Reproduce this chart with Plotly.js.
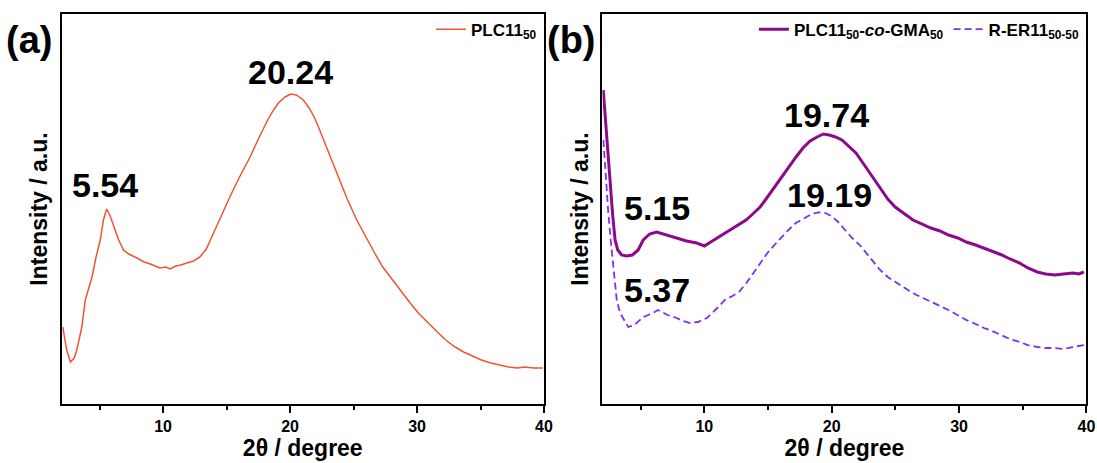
<!DOCTYPE html>
<html>
<head>
<meta charset="utf-8">
<script src="https://cdn.plot.ly/plotly-3.0.1.min.js"></script>
<style>html,body{margin:0;padding:0;background:#fff;}#chart{width:1097px;height:463px;}</style>
</head>
<body>
<div id="chart"></div>
<script>
// Panel (a): PLC11_50
const twoThetaA = [2.1, 2.4, 2.7, 3.0, 3.2, 3.4, 3.6, 3.87, 4.1, 4.4, 4.7, 5.05, 5.3, 5.55, 5.8, 6.0, 6.23, 6.5, 6.88, 7.3, 7.93, 8.5, 9.0, 9.76, 10.2, 10.55, 11.0, 11.4, 11.86, 12.4, 12.9, 13.4, 13.9, 14.5, 15.4, 16.1, 16.85, 17.5, 18.24, 18.7, 19.08, 19.6, 20.06, 20.5, 21.04, 21.5, 21.9, 22.3, 22.74, 23.3, 23.85, 24.5, 25.25, 26.0, 26.66, 27.3, 28.06, 28.8, 29.46, 30.1, 30.86, 31.6, 32.26, 33.0, 33.67, 34.4, 35.07, 35.8, 36.5, 37.2, 37.9, 38.5, 39.2, 39.9];
const intensityA = [77, 54, 42, 46, 54, 66, 77, 104, 114, 127, 146, 164, 184, 195, 189, 182, 174, 164, 154, 150, 146, 142, 140, 136, 137, 135, 138, 139, 141, 143, 147, 155, 169, 186, 211, 229, 247, 265, 284, 294, 301, 307, 310, 309, 304, 296, 287, 275, 261, 243, 224, 205, 184, 166, 151, 137, 124, 112, 101, 91, 81, 72, 64, 57, 52, 48, 44, 41, 39, 37, 36, 37, 36, 36];

// Panel (b): PLC11_50-co-GMA_50
const twoThetaP = [2.06, 2.2, 2.4, 2.6, 2.8, 2.99, 3.2, 3.5, 3.9, 4.35, 4.8, 5.2, 5.7, 6.26, 6.8, 7.4, 8.0, 8.6, 9.4, 10.0, 10.5, 11.0, 11.5, 11.88, 12.6, 13.27, 13.8, 14.38, 14.9, 15.5, 16.0, 16.6, 17.2, 17.74, 18.3, 18.85, 19.34, 19.8, 20.3, 20.8, 21.3, 21.9, 22.4, 23.0, 23.4, 23.87, 24.4, 24.98, 25.7, 26.38, 27.1, 27.78, 28.5, 29.17, 29.9, 30.56, 31.3, 31.95, 32.6, 33.35, 34.0, 34.75, 35.4, 36.14, 36.8, 37.53, 38.2, 38.93, 39.4, 39.8];
const intensityP = [314, 289, 259, 224, 189, 164, 154, 149, 148, 149, 154, 164, 170, 172, 170, 167, 165, 163, 161, 158, 162, 166, 170, 173, 179, 184, 190, 197, 206, 217, 226, 237, 247, 256, 263, 267, 270, 269, 267, 264, 258, 251, 242, 231, 223, 214, 205, 197, 190, 184, 180, 176, 173, 169, 166, 162, 159, 156, 153, 149, 145, 141, 136, 132, 130, 129, 130, 131, 130, 132];

// Panel (b): R-ER11_50-50
const twoThetaR = [2.07, 2.25, 2.46, 2.66, 2.86, 3.12, 3.38, 3.7, 4.03, 4.5, 5.2, 5.8, 6.37, 7.1, 7.83, 8.3, 8.88, 9.5, 10.2, 11.1, 11.6, 12.2, 12.72, 13.3, 13.83, 14.4, 14.95, 15.5, 16.07, 16.6, 17.18, 17.7, 18.3, 18.7, 19.13, 19.5, 19.97, 20.5, 21.08, 21.6, 22.2, 22.7, 23.3, 23.8, 24.4, 25.0, 25.55, 26.1, 26.66, 27.2, 27.78, 28.5, 29.17, 29.9, 30.56, 31.3, 31.95, 32.6, 33.35, 34.0, 34.75, 35.4, 36.14, 36.8, 37.53, 38.2, 38.93, 39.4, 39.8];
const intensityR = [264, 229, 191, 162, 137, 104, 91, 84, 77, 79, 87, 90, 94, 89, 86, 83, 81, 82, 86, 97, 104, 108, 112, 121, 131, 141, 151, 159, 167, 174, 181, 185, 189, 191, 192, 191, 188, 182, 174, 166, 159, 151, 142, 134, 127, 122, 117, 113, 109, 106, 102, 98, 94, 89, 84, 80, 76, 73, 69, 65, 62, 59, 57, 56, 56, 55, 57, 58, 59];

const seriesNames = ['<b>PLC11<sub>50</sub></b>', '<b>PLC11<sub>50</sub>-<i>co</i>-GMA<sub>50</sub></b>', '<b>R-ER11<sub>50-50</sub></b>'];
const tickVals = [10, 20, 30, 40];
const tickLabels = ['10', '20', '30', '40'];

// Peak labels: [text, 2θ, intensity, panel]
const peakLabels = [
  ['5.54', 5.4, 219, 'a'],
  ['20.24', 20.0, 332, 'a'],
  ['19.74', 19.55, 289, 'b'],
  ['5.15', 6.29, 196, 'b'],
  ['19.19', 19.83, 209, 'b'],
  ['5.37', 6.29, 114, 'b']
];

const FONT = 'Arial, "Liberation Sans", sans-serif';

const traces = [
  {x: twoThetaA, y: intensityA, type: 'scatter', mode: 'lines', name: seriesNames[0],
   line: {color: '#EE5533', width: 1.5}, xaxis: 'x', yaxis: 'y', legend: 'legend'},
  {x: twoThetaP, y: intensityP, type: 'scatter', mode: 'lines', name: seriesNames[1],
   line: {color: '#8B0A8B', width: 3}, xaxis: 'x2', yaxis: 'y2', legend: 'legend2'},
  {x: twoThetaR, y: intensityR, type: 'scatter', mode: 'lines', name: seriesNames[2],
   line: {color: '#7B2FF7', width: 1.8, dash: '7px,4px'}, xaxis: 'x2', yaxis: 'y2', legend: 'legend2'}
];

function xAxis(domain, anchor) {
  return {
    domain: domain, anchor: anchor, range: [2, 40],
    tickmode: 'array', tickvals: tickVals, ticktext: tickLabels.map(t => '<b>' + t + '</b>'),
    ticks: 'outside', ticklen: 7, tickwidth: 2, tickcolor: '#000',
    minor: {tickvals: [5, 15, 25, 35], ticks: 'outside', ticklen: 4, tickwidth: 2, tickcolor: '#000'},
    showline: true, linewidth: 2, linecolor: '#000', mirror: true,
    showgrid: false, zeroline: false,
    tickfont: {family: FONT, size: 16, color: '#000', weight: 'bold'},
    title: {text: '<b>2θ / degree</b>', font: {family: FONT, size: 23, color: '#000'}, standoff: 6}
  };
}
function yAxis(domain, anchor) {
  return {
    domain: domain, anchor: anchor, range: [0, 390],
    showticklabels: false, ticks: '',
    showline: true, linewidth: 2, linecolor: '#000', mirror: true,
    showgrid: false, zeroline: false,
    title: {text: '<b>Intensity / a.u.</b>', font: {family: FONT, size: 23, color: '#000'}, standoff: 5}
  };
}

const yDom = [0.1274, 0.9698];
const annotations = peakLabels.map(p => ({
  text: '<b>' + p[0] + '</b>', x: p[1], y: p[2],
  xref: p[3] === 'a' ? 'x' : 'x2', yref: p[3] === 'a' ? 'y' : 'y2',
  xanchor: 'center', yanchor: 'middle',
  showarrow: false, font: {family: FONT, size: 34, color: '#000'}
}));
annotations.push({text: '<b>(a)</b>', xref: 'paper', yref: 'paper', x: 0.0264, y: 0.9136,
  xanchor: 'center', yanchor: 'middle',
  showarrow: false, font: {family: FONT, size: 38, color: '#000'}});
annotations.push({text: '<b>(b)</b>', xref: 'paper', yref: 'paper', x: 0.5214, y: 0.9136,
  xanchor: 'center', yanchor: 'middle',
  showarrow: false, font: {family: FONT, size: 38, color: '#000'}});

const layout = {
  width: 1097, height: 463,
  margin: {l: 0, r: 0, t: 0, b: 0},
  paper_bgcolor: '#fff', plot_bgcolor: '#fff',
  font: {family: FONT, color: '#000'},
  showlegend: true,
  xaxis: xAxis([0.0561, 0.4959], 'y'),
  yaxis: yAxis(yDom, 'x'),
  xaxis2: xAxis([0.5492, 0.9904], 'y2'),
  yaxis2: yAxis(yDom, 'x2'),
  legend: {x: 0.494, xanchor: 'right', y: 0.975, yanchor: 'top', bgcolor: 'rgba(0,0,0,0)',
           font: {family: FONT, size: 17, color: '#000'}},
  legend2: {orientation: 'h', x: 0.989, xanchor: 'right', y: 0.975, yanchor: 'top', bgcolor: 'rgba(0,0,0,0)',
            font: {family: FONT, size: 17, color: '#000'}, itemgap: 6},
  annotations: annotations
};

Plotly.newPlot('chart', traces, layout, {displayModeBar: false, staticPlot: true});
</script>
</body>
</html>
